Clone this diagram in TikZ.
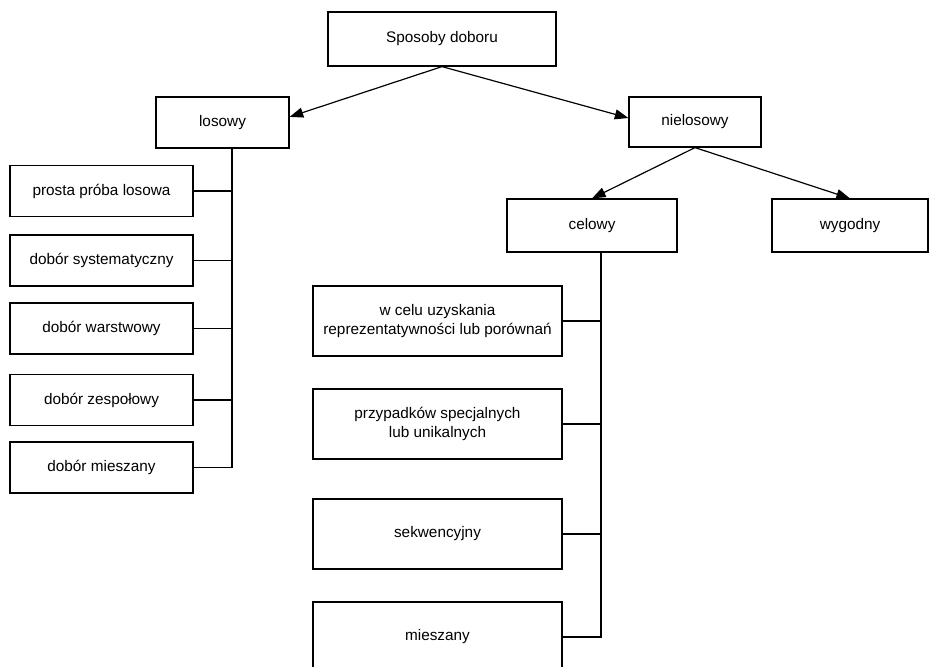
\documentclass[tikz,border=0pt]{standalone}
\usepackage{fontspec}
\setmainfont{Liberation Sans}
\usepackage{tikz}
\usetikzlibrary{arrows.meta}
\tikzset{box/.style={draw, rectangle, line width=0.85pt, align=center, inner sep=0pt,
  font=\fontsize{10.9}{13}\selectfont},
  small/.style={box, minimum width=4.575cm, minimum height=1.275cm},
  big/.style={box, minimum width=6.225cm, minimum height=1.75cm}}

\begin{document}
\begin{tikzpicture}[>={Triangle[length=0.34cm,width=0.25cm]}, line width=0.85pt]
\useasboundingbox (0,0) rectangle (23.25,-16.65);
%\draw[help lines] (0,0) grid (23,-16);
\node[box, minimum width=5.7cm, minimum height=1.35cm] (sposoby) at (11.05,-0.975) {Sposoby doboru};
\node[box, minimum width=3.325cm, minimum height=1.275cm] (losowy) at (5.5625,-3.0625) {losowy};
\node[box, minimum width=3.3cm, minimum height=1.25cm] (nielosowy) at (17.375,-3.05) {nielosowy};
\node[box, minimum width=4.25cm, minimum height=1.325cm] (celowy) at (14.8,-5.6375) {celowy};
\node[box, minimum width=3.9cm, minimum height=1.325cm] (wygodny) at (21.25,-5.6375) {wygodny};
% losowy
\node[small] (l1) at (2.5375,-4.775) {prosta próba losowa};
\node[small] (l2) at (2.5375,-6.5125) {dobór systematyczny};
\node[small] (l3) at (2.5375,-8.2125) {dobór warstwowy};
\node[small] (l4) at (2.5375,-10.0) {dobór zespołowy};
\node[small] (l5) at (2.5375,-11.6875) {dobór mieszany};
% celowy
\node[big] (c1) at (10.9375,-8.025) {w celu uzyskania\\reprezentatywności lub porównań};
\node[big] (c2) at (10.9375,-10.6) {przypadków specjalnych\\lub unikalnych};
\node[big] (c3) at (10.9375,-13.35) {sekwencyjny};
\node[big] (c4) at (10.9375,-15.925) {mieszany};
\draw [->] (sposoby.south) -- ([yshift=0.14cm]losowy.east);
\draw [->] (sposoby.south) -- ([yshift=0.1cm]nielosowy.west);
\draw [->] (nielosowy.south) -- (celowy.north);
\draw [->] (nielosowy.south) -- (wygodny.north);
\coordinate (lbus) at (5.8,0);
\coordinate (cbus) at (15.025,0);
\draw (losowy.south -| lbus) |- (l5.east);
\foreach \n in {l1,l2,l3,l4}
\draw (\n.east) -- (\n.east -| lbus);
\draw (celowy.south -| cbus) |- (c4.east);
\foreach \n in {c1,c2,c3}
\draw (\n.east) -- (\n.east -| cbus);
\end{tikzpicture}
\end{document}
